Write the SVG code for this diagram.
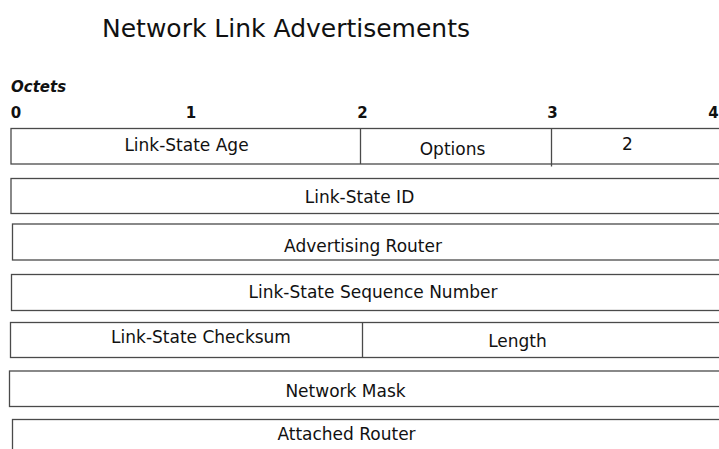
<svg xmlns="http://www.w3.org/2000/svg" width="719" height="449" viewBox="0 0 719 449">
  <style>
    .bg { fill: #ffffff; }
    .field { fill: #ffffff; stroke: #4a4a4a; stroke-width: 1.3; }
    .div { stroke: #4a4a4a; stroke-width: 1.3; fill: none; }
    .lbl { font-family: "DejaVu Sans", "Liberation Sans", sans-serif; font-size: 17px; fill: #111; text-anchor: middle; }
    .title { font-family: "DejaVu Sans", "Liberation Sans", sans-serif; font-size: 25px; fill: #111; }
    .octets { font-family: "DejaVu Sans", "Liberation Sans", sans-serif; font-size: 15px; font-weight: bold; font-style: italic; fill: #111; }
    .num { font-family: "DejaVu Sans", "Liberation Sans", sans-serif; font-size: 15px; font-weight: bold; fill: #111; text-anchor: middle; }
  </style>
  <rect class="bg" x="0" y="0" width="719" height="449"/>

  <g id="header">
    <text class="title" x="102" y="37">Network Link Advertisements</text>
    <text class="octets" x="11" y="92">Octets</text>
    <text class="num" x="16" y="118">0</text>
    <text class="num" x="191" y="118">1</text>
    <text class="num" x="362.5" y="118">2</text>
    <text class="num" x="552.5" y="118">3</text>
    <text class="num" x="713.5" y="118">4</text>
  </g>

  <g id="row-age-options">
    <rect class="field" x="11" y="128.5" width="720" height="35.5"/>
    <line class="div" x1="360.5" y1="128.5" x2="360.5" y2="164"/>
    <line class="div" x1="551.5" y1="128.5" x2="551.5" y2="166.5"/>
    <text class="lbl" x="186.5" y="151">Link-State Age</text>
    <text class="lbl" x="452.5" y="155">Options</text>
    <text class="lbl" x="627.5" y="150">2</text>
  </g>

  <g id="row-ls-id">
    <rect class="field" x="11" y="178.5" width="720" height="35"/>
    <text class="lbl" x="359.5" y="203">Link-State ID</text>
  </g>

  <g id="row-adv-router">
    <rect class="field" x="12.5" y="224" width="720" height="36"/>
    <text class="lbl" x="363" y="252">Advertising Router</text>
  </g>

  <g id="row-seq">
    <rect class="field" x="11.5" y="274.5" width="720" height="36"/>
    <text class="lbl" x="373" y="298">Link-State Sequence Number</text>
  </g>

  <g id="row-checksum-length">
    <rect class="field" x="10.5" y="322.5" width="720" height="35"/>
    <line class="div" x1="362.5" y1="322.5" x2="362.5" y2="357.5"/>
    <text class="lbl" x="201" y="343">Link-State Checksum</text>
    <text class="lbl" x="517.5" y="347">Length</text>
  </g>

  <g id="row-netmask">
    <rect class="field" x="9.5" y="371" width="720" height="35.5"/>
    <text class="lbl" x="345.5" y="397">Network Mask</text>
  </g>

  <g id="row-attached">
    <rect class="field" x="12.5" y="419.5" width="720" height="45"/>
    <text class="lbl" x="346.5" y="440">Attached Router</text>
  </g>
</svg>
